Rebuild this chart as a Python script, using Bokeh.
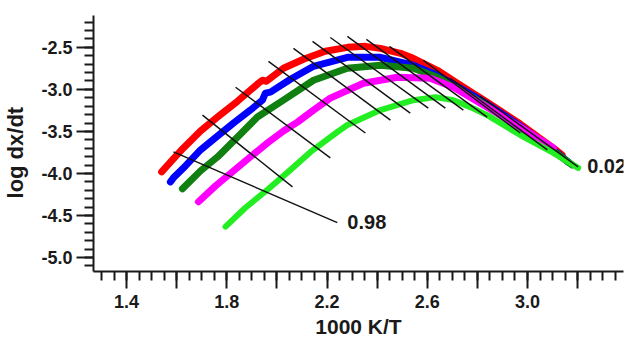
import numpy as np
from bokeh.plotting import figure
from bokeh.models import FixedTicker, Range1d, Label, CustomJSTickFormatter
from bokeh.embed import file_html
from bokeh.resources import INLINE

# ---- data ----
red_x = [1.540, 1.583, 1.627, 1.695, 1.763, 1.843, 1.894, 1.926, 1.942, 1.958, 2.026, 2.106, 2.193, 2.281, 2.353, 2.413, 2.493, 2.544, 2.640, 2.732, 2.839, 2.971, 3.103, 3.138]
red_y = [-3.981, -3.839, -3.697, -3.495, -3.329, -3.140, -3.009, -2.927, -2.891, -2.903, -2.749, -2.642, -2.547, -2.500, -2.488, -2.512, -2.571, -2.630, -2.773, -2.950, -3.152, -3.412, -3.697, -3.780]

blue_x = [1.575, 1.587, 1.635, 1.695, 1.763, 1.827, 1.894, 1.942, 1.954, 1.974, 2.054, 2.146, 2.281, 2.413, 2.544, 2.640, 2.732, 2.839, 2.971, 3.103, 3.162]
blue_y = [-4.100, -4.052, -3.910, -3.720, -3.555, -3.400, -3.246, -3.128, -3.045, -3.033, -2.879, -2.725, -2.618, -2.618, -2.713, -2.832, -2.986, -3.175, -3.436, -3.720, -3.863]

dgreen_x = [1.623, 1.695, 1.763, 1.843, 1.922, 2.026, 2.146, 2.281, 2.413, 2.544, 2.640, 2.732, 2.839, 2.971, 3.103, 3.178]
dgreen_y = [-4.182, -3.969, -3.803, -3.566, -3.329, -3.128, -2.891, -2.749, -2.713, -2.749, -2.855, -3.009, -3.199, -3.460, -3.732, -3.898]

magenta_x = [1.687, 1.755, 1.827, 1.894, 1.962, 2.026, 2.082, 2.146, 2.213, 2.345, 2.481, 2.612, 2.704, 2.839, 2.971, 3.103]
magenta_y = [-4.336, -4.147, -3.969, -3.803, -3.637, -3.495, -3.389, -3.246, -3.104, -2.927, -2.855, -2.867, -2.974, -3.211, -3.448, -3.697]

lgreen_x = [1.795, 1.874, 1.962, 2.054, 2.134, 2.241, 2.281, 2.413, 2.544, 2.632, 2.704, 2.772, 2.839, 2.971, 3.103, 3.202]
lgreen_y = [-4.633, -4.408, -4.194, -3.957, -3.744, -3.507, -3.424, -3.246, -3.128, -3.092, -3.128, -3.211, -3.306, -3.543, -3.756, -3.934]

# iso-conversion lines (start / end)
iso_x0 = [1.587, 1.703, 1.835, 1.966, 2.066, 2.142, 2.213, 2.281, 2.357, 2.449, 2.584, 2.692, 2.811]
iso_y0 = [-3.744, -3.306, -2.974, -2.666, -2.512, -2.429, -2.382, -2.370, -2.405, -2.488, -2.654, -2.867, -3.081]
iso_x1 = [2.241, 2.062, 2.213, 2.353, 2.453, 2.532, 2.604, 2.672, 2.744, 2.839, 2.971, 3.079, 3.202]
iso_y1 = [-4.585, -4.159, -3.815, -3.519, -3.365, -3.282, -3.223, -3.223, -3.246, -3.329, -3.519, -3.720, -3.922]

x_major_ticks = [1.4, 1.6, 1.8, 2.0, 2.2, 2.4, 2.6, 2.8, 3.0, 3.2]
y_major_ticks = [-5.0, -4.5, -4.0, -3.5, -3.0, -2.5]

FONT = "Liberation Sans"
INK = "#1a1a1a"

p = figure(width=629, height=340, output_backend="svg", toolbar_location=None,
           x_range=Range1d(1.268, 3.383), y_range=Range1d(-5.166, -2.121),
           min_border_left=93, min_border_right=6, min_border_top=15, min_border_bottom=69)
p.outline_line_color = None
p.grid.visible = False

curves = [
    (red_x, red_y, "#ff0000", 7),
    (blue_x, blue_y, "#0000ff", 7),
    (dgreen_x, dgreen_y, "#108010", 7),
    (magenta_x, magenta_y, "#ff00ff", 7),
    (lgreen_x, lgreen_y, "#22ee22", 6),
]
for xs, ys, c, w in curves:
    p.line(xs, ys, line_color=c, line_width=w, line_cap="round", line_join="round")

p.segment(x0=iso_x0, y0=iso_y0, x1=iso_x1, y1=iso_y1, line_color="#111111", line_width=1.4)

p.add_layout(Label(x=2.281, y=-4.573, text="0.98", text_align="left", text_baseline="middle",
                   text_font=FONT, text_font_style="bold", text_font_size="20px", text_color=INK))
p.add_layout(Label(x=3.238, y=-3.910, text="0.02", text_align="left", text_baseline="middle",
                   text_font=FONT, text_font_style="bold", text_font_size="20px", text_color=INK))

x_minor = list(np.round(np.arange(1.30, 3.40, 0.05), 2))
y_minor = list(np.round(np.arange(-5.1, -2.15, 0.1), 1))
p.xaxis.ticker = FixedTicker(ticks=x_major_ticks, minor_ticks=x_minor)
p.yaxis.ticker = FixedTicker(ticks=y_major_ticks, minor_ticks=y_minor)
p.xaxis.formatter = CustomJSTickFormatter(code="""
    const r = (tick - 0.2) / 0.4;
    return (Math.abs(r - Math.round(r)) < 1e-6) ? tick.toFixed(1) : "";
""")
p.yaxis.formatter = CustomJSTickFormatter(code="return tick.toFixed(1);")

for ax in (p.xaxis[0], p.yaxis[0]):
    ax.axis_line_width = 2
    ax.axis_line_color = INK
    ax.major_tick_line_width = 2
    ax.major_tick_line_color = INK
    ax.minor_tick_line_width = 2
    ax.minor_tick_line_color = INK
    ax.major_tick_in = 0
    ax.minor_tick_in = 0
    ax.major_tick_out = 17
    ax.minor_tick_out = 9
    ax.major_label_text_font = FONT
    ax.major_label_text_font_style = "bold"
    ax.major_label_text_font_size = "18px"
    ax.major_label_text_color = INK
    ax.axis_label_text_font = FONT
    ax.axis_label_text_font_style = "bold"
    ax.axis_label_text_font_size = "21px"
    ax.axis_label_text_color = INK

p.xaxis.axis_label = "1000 K/T"
# trailing no-break spaces shift the visible title down, as in the reference
p.yaxis.axis_label = "log dx/dt" + "\u00a0" * 3
p.yaxis.axis_label_text_font_size = "22px"
p.xaxis.major_label_standoff = 6
p.yaxis.major_label_standoff = 4
p.xaxis.axis_label_standoff = 4
p.yaxis.axis_label_standoff = 10

open("out.html", "w").write(file_html(p, INLINE))
